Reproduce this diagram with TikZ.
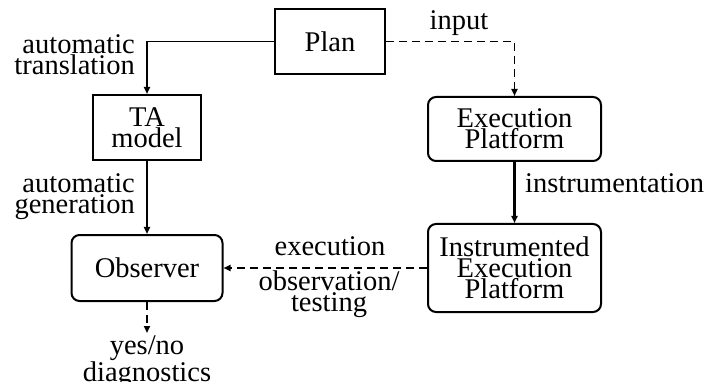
\documentclass[tikz,border=0pt]{standalone}
\usepackage{fontspec}
\setmainfont{Liberation Serif}
\usetikzlibrary{arrows.meta}
\begin{document}
\begin{tikzpicture}[x=1pt,y=-1pt,
  every node/.style={font=\fontsize{28.5}{21}\selectfont, inner sep=0pt},
  box/.style={draw, line width=2pt, align=center},
  rbox/.style={box, rounded corners=8pt},
  arr/.style={line width=1.8pt, -{Triangle[length=7pt,width=6pt]}},
  dsh/.style={dash pattern=on 8pt off 5pt},
  lbl/.style={align=center}]
\useasboundingbox (0,0) rectangle (720,382);
\node[box, minimum width=110pt, minimum height=65pt] (plan) at (330,41.5) {Plan};
\node[box, minimum width=108pt, minimum height=65pt] (ta) at (147,127.5) {TA\\model};
\node[rbox, minimum width=151pt, minimum height=66pt] (obs) at (147,268) {Observer};
\node[rbox, minimum width=173pt, minimum height=64pt] (exec) at (514.5,129) {Execution\\Platform};
\node[rbox, minimum width=173pt, minimum height=88pt] (instr) at (514.5,268) {Instrumented\\Execution\\Platform};
\node[lbl, anchor=north] (out) at (147,336) {yes/no\\diagnostics};

\node[lbl, align=right, anchor=east] (l1) at (135,55) {automatic\\translation};
\node[lbl, align=right, anchor=east] (l2) at (135,197) {automatic\\generation};
\node[lbl] (l3) at (459,23) {input};
\node[lbl, anchor=west] (l4) at (525,183) {instrumentation};
\node[lbl] (l5) at (330,246) {execution};
\node[lbl] (l6) at (329,294) {observation/\\testing};

\draw[arr] (plan.west) -| (ta.north);
\draw[arr, dsh] (plan.east) -| (exec.north);
\draw[arr] (ta.south) -- (obs.north -| ta.south);
\draw[arr, line width=2.6pt] (exec.south) -- (instr.north);
\draw[arr, dsh] (instr.west) -- (obs.east);
\draw[arr, dsh] (obs.south) -- ([yshift=3pt]out.north);
\end{tikzpicture}
\end{document}
